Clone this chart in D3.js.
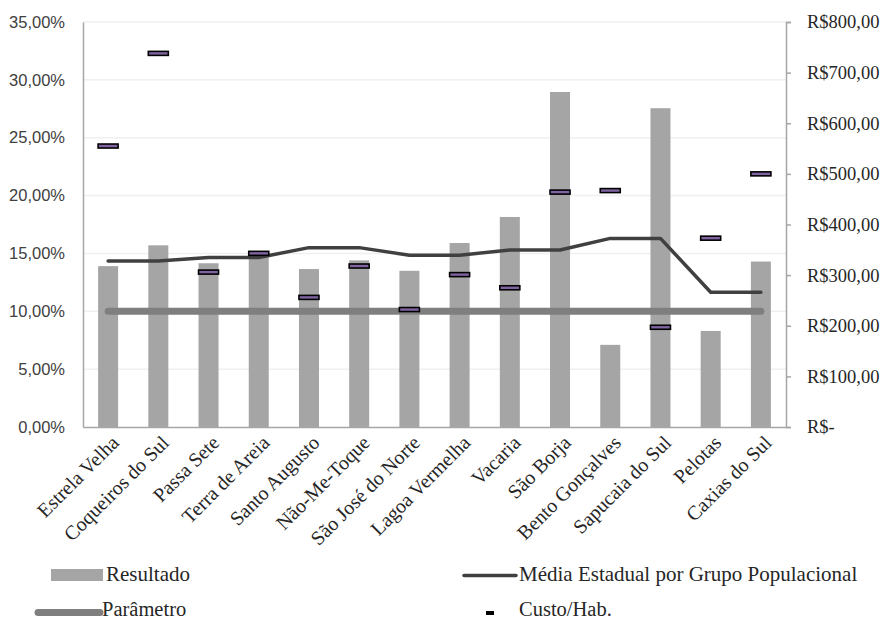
<!DOCTYPE html>
<html>
<head>
<meta charset="utf-8">
<style>
body { margin: 0; background: #fff; }
.grid line { stroke: #f0f0f0; stroke-width: 1.5px; }
.serif { font-family: "Liberation Serif", serif; fill: #262626; }
.sans { font-family: "Liberation Sans", sans-serif; fill: #404040; }
</style>
<title>Resultado x Custo</title>
</head>
<body>
<div id="chart"></div>
<script src="https://d3js.org/d3.v7.min.js"></script>
<script>
// data
var categories = ["Estrela Velha", "Coqueiros do Sul", "Passa Sete", "Terra de Areia", "Santo Augusto",
  "Não-Me-Toque", "São José do Norte", "Lagoa Vermelha", "Vacaria", "São Borja",
  "Bento Gonçalves", "Sapucaia do Sul", "Pelotas", "Caxias do Sul"];
var resultado = [13.9, 15.7, 14.15, 15.1, 13.65, 14.4, 13.5, 15.9, 18.15, 28.95, 7.1, 27.55, 8.3, 14.3];
var mediaEstadual = [14.35, 14.35, 14.65, 14.65, 15.5, 15.5, 14.85, 14.85, 15.3, 15.3, 16.3, 16.3, 11.65, 11.65];
var parametro = [10, 10, 10, 10, 10, 10, 10, 10, 10, 10, 10, 10, 10, 10];
var custoHab = [555, 738, 306, 343, 256, 318, 232, 301, 275, 464, 467, 197, 373, 500];
var leftTicks = [0, 5, 10, 15, 20, 25, 30, 35];
var rightTicks = [0, 100, 200, 300, 400, 500, 600, 700, 800];

var width = 883, height = 622;
var margin = {top: 22, right: 97, bottom: 195, left: 83};
var x0 = margin.left, x1 = width - margin.right;
var yTop = margin.top, yBot = height - margin.bottom;

var svg = d3.select("#chart").append("svg")
  .attr("width", width)
  .attr("height", height);

svg.append("rect").attr("width", width).attr("height", height).attr("fill", "#fff");

var x = d3.scaleBand()
  .domain(categories)
  .range([x0, x1]);

var y = d3.scaleLinear().domain([0, 35]).range([yBot, yTop]);
var y2 = d3.scaleLinear().domain([0, 800]).range([yBot, yTop]);

function cx(d) { return x(d) + x.bandwidth() / 2; }

// gridlines
svg.append("g").attr("class", "grid")
  .selectAll("line")
  .data(leftTicks.slice(1))
  .enter().append("line")
    .attr("x1", x0).attr("x2", x1)
    .attr("y1", function(d) { return y(d); })
    .attr("y2", function(d) { return y(d); });

// bars
var barW = 20;
svg.append("g")
  .selectAll("rect")
  .data(categories)
  .enter().append("rect")
    .attr("x", function(d) { return cx(d) - barW / 2; })
    .attr("y", function(d, i) { return y(resultado[i]); })
    .attr("width", barW)
    .attr("height", function(d, i) { return yBot - y(resultado[i]); })
    .attr("fill", "#a5a5a5");

// parametro line
var line = d3.line()
  .x(function(d) { return cx(d.c); })
  .y(function(d) { return y(d.v); });

svg.append("path")
  .datum(categories.map(function(c, i) { return {c: c, v: parametro[i]}; }))
  .attr("d", line)
  .attr("fill", "none")
  .attr("stroke", "#7f7f7f")
  .attr("stroke-width", 7)
  .attr("stroke-linecap", "round");

// media line
svg.append("path")
  .datum(categories.map(function(c, i) { return {c: c, v: mediaEstadual[i]}; }))
  .attr("d", line)
  .attr("fill", "none")
  .attr("stroke", "#404040")
  .attr("stroke-width", 3.5)
  .attr("stroke-linejoin", "round")
  .attr("stroke-linecap", "round");

// custo markers (right axis)
svg.append("g")
  .selectAll("rect")
  .data(categories)
  .enter().append("rect")
    .attr("x", function(d) { return cx(d) - 10; })
    .attr("y", function(d, i) { return y2(custoHab[i]) - 2; })
    .attr("width", 20)
    .attr("height", 4)
    .attr("fill", "#8064a2")
    .attr("stroke", "#000")
    .attr("stroke-width", 1.6);

// axes
var fmtPct = function(d) { return d3.format(".2f")(d).replace(".", ",") + "%"; };
var leftAxis = svg.append("g")
  .attr("transform", "translate(" + x0 + ",0)")
  .call(d3.axisLeft(y).tickValues(leftTicks).tickSize(0).tickPadding(18).tickFormat(fmtPct));
leftAxis.select(".domain").attr("stroke", "#a6a6a6").attr("stroke-width", 1.5);
leftAxis.selectAll("text").attr("class", "sans").attr("font-size", 16.5).attr("fill", "#404040");

var fmtBRL = function(d) {
  if (d === 0) return "R$-";
  return "R$" + d3.format(".2f")(d).replace(".", ",");
};
var rightAxis = svg.append("g")
  .attr("transform", "translate(" + x1 + ",0)")
  .call(d3.axisRight(y2).tickValues(rightTicks).tickSize(5).tickSizeOuter(5).tickPadding(16).tickFormat(fmtBRL));
rightAxis.select(".domain").attr("stroke", "#a6a6a6").attr("stroke-width", 1.5);
rightAxis.selectAll(".tick line").attr("stroke", "#a6a6a6").attr("stroke-width", 1.5);
rightAxis.selectAll("text").attr("class", "serif").attr("font-size", 18.5).attr("fill", "#262626");

var bottomAxis = svg.append("g")
  .attr("transform", "translate(0," + yBot + ")")
  .call(d3.axisBottom(x).tickSize(0).tickSizeOuter(0).tickPadding(0));
bottomAxis.select(".domain").attr("stroke", "#a6a6a6").attr("stroke-width", 1.5);
bottomAxis.selectAll("text")
  .attr("class", "serif")
  .attr("font-size", 20)
  .attr("fill", "#262626")
  .attr("text-anchor", "end")
  .attr("y", 0)
  .attr("dy", "0.35em")
  .attr("transform", "translate(7,12) rotate(-45)");

svg.selectAll("g").filter(function() { return this.getAttribute("font-family"); }).attr("font-family", null);

// legend
var lg = svg.append("g").attr("class", "serif").attr("font-size", 21);

lg.append("rect").attr("x", 51).attr("y", 569).attr("width", 52).attr("height", 12).attr("fill", "#a5a5a5");
lg.append("text").attr("x", 106).attr("y", 581).text("Resultado");

lg.append("line").attr("x1", 464).attr("x2", 516).attr("y1", 575.5).attr("y2", 575.5)
  .attr("stroke", "#404040").attr("stroke-width", 3.5).attr("stroke-linecap", "round");
lg.append("text").attr("x", 519).attr("y", 581).text("Média Estadual por Grupo Populacional");

lg.append("line").attr("x1", 38).attr("x2", 100).attr("y1", 612.5).attr("y2", 612.5)
  .attr("stroke", "#7f7f7f").attr("stroke-width", 7).attr("stroke-linecap", "round");
lg.append("text").attr("x", 102).attr("y", 616).attr("font-size", 20.5).text("Parâmetro");

lg.append("rect").attr("x", 486).attr("y", 611).attr("width", 8).attr("height", 4).attr("fill", "#000");
lg.append("text").attr("x", 519).attr("y", 616).attr("font-size", 20.5).text("Custo/Hab.");
</script>
</body>
</html>
